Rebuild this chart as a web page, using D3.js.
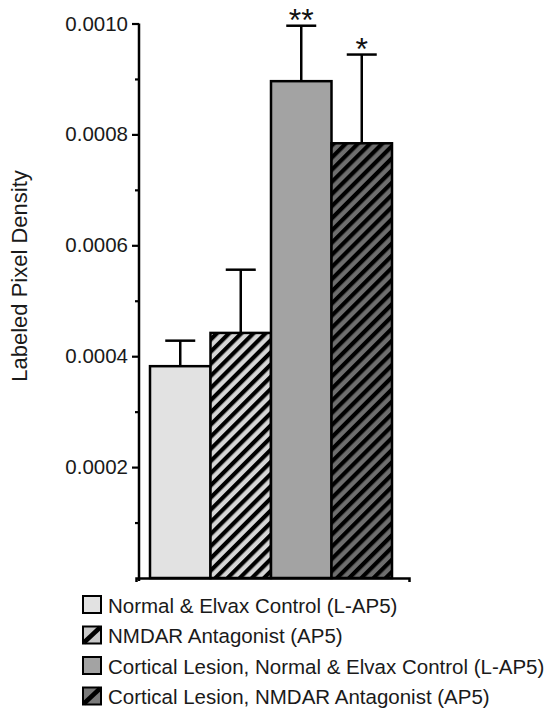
<!DOCTYPE html>
<html>
<head>
<meta charset="utf-8">
<script src="https://cdn.jsdelivr.net/npm/d3@7"></script>
<style>
  html, body { margin: 0; padding: 0; background: #fff; }
  svg { display: block; font-family: "Liberation Sans", Arial, Helvetica, sans-serif; }
</style>
</head>
<body>
<svg id="chart" width="546" height="714"></svg>
<script>
// ---- data ----
const categories = [
  "Normal & Elvax Control (L-AP5)",
  "NMDAR Antagonist (AP5)",
  "Cortical Lesion, Normal & Elvax Control (L-AP5)",
  "Cortical Lesion, NMDAR Antagonist (AP5)"
];
const means = [0.000382, 0.000442, 0.000896, 0.000784];
const errorTops = [0.000428, 0.000556, 0.000996, 0.000944];
const significance = ["", "", "**", "*"];
const majorTicks = [0.0002, 0.0004, 0.0006, 0.0008, 0.0010];
const minorTicks = [0.0001, 0.0003, 0.0005, 0.0007, 0.0009];
const yLabel = "Labeled Pixel Density";

// ---- styles ----
const fills = ["#e2e2e2", "url(#hatchLight)", "#a3a3a3", "url(#hatchDark)"];
const boxFills = ["#e2e2e2", "#c8c8c8", "#a3a3a3", "#7a7a7a"];
const hatched = [false, true, false, true];

const svg = d3.select("#chart");
const defs = svg.append("defs");
function hatch(id, bg) {
  const p = defs.append("pattern").attr("id", id)
    .attr("patternUnits", "userSpaceOnUse")
    .attr("width", 8.6).attr("height", 8.6)
    .attr("patternTransform", "rotate(45)");
  p.append("rect").attr("width", 8.6).attr("height", 8.6).attr("fill", bg);
  p.append("rect").attr("x", 0).attr("width", 4.2).attr("height", 8.6).attr("fill", "#000");
}
hatch("hatchLight", "#d6d6d6");
hatch("hatchDark", "#6e6e6e");

const y = d3.scaleLinear().domain([0, 0.001]).range([578, 23.5]);
const x = d3.scaleBand().domain(categories).range([150, 392]).padding(0);
const axisX = 139;

// bars
svg.append("g").selectAll("rect").data(categories).join("rect")
  .attr("x", d => x(d))
  .attr("y", (d, i) => y(means[i]))
  .attr("width", x.bandwidth())
  .attr("height", (d, i) => y(0) - y(means[i]))
  .attr("fill", (d, i) => fills[i])
  .attr("stroke", "#000").attr("stroke-width", 2.5);

// error bars
const eg = svg.append("g").attr("stroke", "#000").attr("stroke-width", 2.5);
categories.forEach((c, i) => {
  const cx = x(c) + x.bandwidth() / 2;
  eg.append("line").attr("x1", cx).attr("x2", cx)
    .attr("y1", y(means[i])).attr("y2", y(errorTops[i]));
  eg.append("line").attr("x1", cx - 15).attr("x2", cx + 15)
    .attr("y1", y(errorTops[i])).attr("y2", y(errorTops[i]));
});

// significance stars
svg.append("g").selectAll("text").data(categories).join("text")
  .attr("x", d => x(d) + x.bandwidth() / 2)
  .attr("y", (d, i) => y(errorTops[i]) + 5)
  .attr("text-anchor", "middle")
  .attr("font-size", 32)
  .attr("fill", "#111")
  .text((d, i) => significance[i]);

// y axis
const yAxis = svg.append("g").attr("transform", `translate(${axisX},0)`)
  .call(d3.axisLeft(y).tickValues(majorTicks).tickFormat(d3.format(".4f"))
    .tickSize(7).tickSizeOuter(0).tickPadding(4));
yAxis.select(".domain").attr("stroke-width", 2.5).attr("d", `M0,${y(0.001)}V${y(0) + 3}`);
yAxis.selectAll(".tick line").attr("stroke-width", 2.2);
yAxis.selectAll(".tick text").attr("font-size", 20.5).attr("fill", "#1a1a1a")
  .attr("font-family", "'Liberation Sans', Arial, sans-serif");

const yMinor = svg.append("g").attr("transform", `translate(${axisX},0)`)
  .call(d3.axisLeft(y).tickValues(minorTicks).tickFormat("").tickSize(4).tickSizeOuter(0));
yMinor.select(".domain").remove();
yMinor.selectAll(".tick line").attr("stroke-width", 2.2);

// x axis baseline
const xAxis = svg.append("g").attr("transform", `translate(0,${y(0)})`)
  .call(d3.axisBottom(d3.scaleLinear().domain([0, 1]).range([axisX - 3, 409]))
    .tickValues([]).tickSizeOuter(4));
xAxis.select(".domain").attr("stroke-width", 2.5);

// y label
svg.append("text")
  .attr("transform", `translate(27,276) rotate(-90)`)
  .attr("text-anchor", "middle")
  .attr("font-size", 22)
  .attr("fill", "#1a1a1a")
  .text(yLabel);

// legend
const lg = svg.append("g");
categories.forEach((c, i) => {
  const top = 596 + i * 30.5;
  lg.append("rect").attr("x", 83).attr("y", top).attr("width", 18).attr("height", 17)
    .attr("fill", boxFills[i]).attr("stroke", "#000").attr("stroke-width", 2);
  if (hatched[i]) {
    lg.append("line").attr("x1", 84).attr("y1", top + 16).attr("x2", 100).attr("y2", top + 1)
      .attr("stroke", "#000").attr("stroke-width", 4.5);
  }
  lg.append("text").attr("x", 108).attr("y", top + 16.5)
    .attr("font-size", 20.5).attr("fill", "#1a1a1a").text(c);
});
</script>
</body>
</html>
